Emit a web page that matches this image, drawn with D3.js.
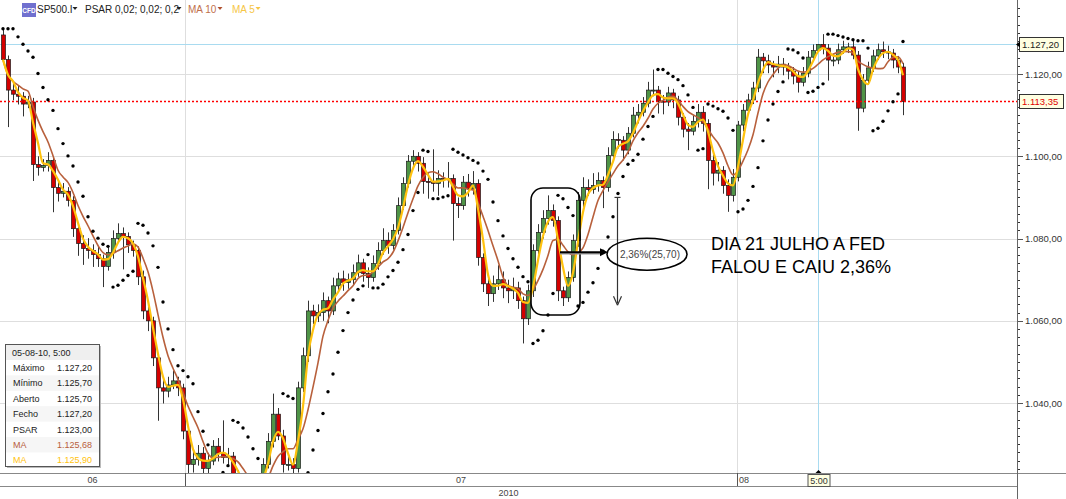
<!DOCTYPE html>
<html><head><meta charset="utf-8">
<script src="https://cdn.jsdelivr.net/npm/d3@7"></script>
<style>body{margin:0;background:#fff;}svg{display:block;font-family:"Liberation Sans",Arial,sans-serif;}</style>
</head><body><svg id="c" width="1066" height="499"></svg>
<script>
// ---------- DATA ----------
const firstOpen = 1129.5;
const closes = [
1123.5,1116.1,1115.1,1114.6,1112.7,1113.2,1098.0,1097.3,1097.8,1099.0,
1092.4,1091.0,1091.5,1089.3,1082.4,1078.8,1077.6,1077.1,1076.1,1075.1,
1073.2,1076.6,1080.0,1081.2,1080.5,1078.5,1077.1,1070.7,1062.4,1060.0,
1051.0,1043.7,1042.9,1044.4,1045.4,1043.7,1033.2,1025.1,1026.3,1027.8,
1024.1,1025.9,1029.5,1027.8,1026.8,1027.1,1022.7,1020.2,1018.5,1017.3,
1018.5,1021.0,1025.1,1030.7,1037.3,1032.0,1025.1,1025.1,1024.1,1043.7,
1051.5,1062.4,1061.2,1062.0,1064.9,1062.4,1068.5,1070.2,1069.3,1070.0,
1071.7,1074.1,1071.5,1070.5,1073.9,1077.1,1079.5,1078.3,1082.0,1088.0,
1093.4,1098.8,1100.0,1098.3,1093.9,1093.7,1093.4,1094.6,1094.4,1094.6,
1088.5,1088.0,1093.7,1092.2,1093.4,1075.4,1069.0,1066.6,1069.0,1070.0,
1068.0,1067.3,1068.0,1064.9,1060.5,1067.3,1077.1,1081.5,1084.9,1086.8,
1084.4,1067.3,1065.6,1070.5,1079.5,1089.3,1092.4,1091.9,1092.9,1094.1,
1092.4,1100.2,1104.1,1103.9,1101.5,1105.6,1110.0,1110.7,1112.9,1116.1,
1116.1,1113.4,1113.2,1115.4,1113.7,1109.5,1106.6,1106.1,1108.5,1110.7,
1108.0,1099.0,1095.9,1096.6,1092.9,1090.5,1094.9,1107.6,1111.2,1113.7,
1116.6,1124.1,1123.2,1122.2,1121.7,1122.4,1121.7,1120.7,1119.5,1118.0,
1120.2,1124.1,1125.7,1127.2,1126.3,1123.4,1123.4,1125.9,1126.6,1126.6,
1124.6,1111.7,1118.5,1121.5,1124.4,1125.9,1125.4,1125.1,1123.4,1121.7,1113.35];
const wickUp = [
1.5,1,1.5,2,1,1.5,1,2,1.5,2,
1,1.5,2,1,1,1.5,2,2.5,1.5,2,
1,1.5,2,2.5,1.5,1,1,1,1.5,1,
1,1,2,2,2.5,1,1,1.5,2,2,
1.5,2,1.5,2,8,2,1,1,1,1,
1,1,1.5,2,5,1.5,1.5,2,1.5,1.5,
2,2.5,1.5,2,2,1,2,1.5,2,1.5,
2,2,1,1.5,2,2,3,2,1.5,2,
1.5,1.5,1.5,1,1.5,2,8,2,1.5,4,
1,1.5,1.5,2,3,1,1,1.5,2,3.5,
2,2,2.5,1.5,1,1.5,1.5,2,2,3.7,
1.5,1,1,1.5,1.5,2,2.5,2,3,2,
1,2,2,1.5,1,1.5,2,2,1.5,2,
5,1,1.5,1.5,1,1,1,1.5,1.5,2,
1.5,1,1.5,2,1,1.5,2,1,1.5,1.5,
1.5,2,1,1.5,1,2,1.5,1,1,1,
1.5,1.5,1.5,0,2.5,1,1.5,1.5,1.5,1,
1.5,1,1.5,1.5,1.5,1.5,2,1.5,1,1,1];
const wickDn = [
1,9,1.5,2,3,1,4,2,1,1.5,
6,2,1,1.5,2,3,4,2,3,2,
5,1,1.5,1,8,2,1.5,2,2,2.5,
2,8,3,1.5,1,2,2,3,2,1.5,
2,1.5,1,2,1.5,2,2,1.5,1.5,1.5,
1,1.5,1.5,1,1.5,1,2,1.5,2,1,
1,1.5,2,1.5,2,3,1,1.5,2,1.5,
1.5,1,2,2.5,1,1.5,1,2,1,1,
1,1,1.5,2,3,4,2,3,2,2,
9,3,1,2,1.5,2,2,3,2,1.5,
2.5,3,2,2,6,1.5,1.5,1,1.5,1.5,
1.5,2.5,2,1,1,1.5,2,1.5,1,1.5,
5,1,1,2,2.5,1,1,2,1,1,
1.5,3,3,1,2,2,2,4.6,1,1.5,
2,7,3,2,2,4,1.5,1,1.5,1,
1,1,3,2,2.5,1.5,2,2,2,2.5,
1,1,1,0,1.5,5,1.5,1,1,1.5,
1,5.5,1,1,1,1,1.5,1.5,2,1.5,3.35];

const yDomain = [1023, 1138];
const yMajorTicks = [1040, 1060, 1080, 1100, 1120];
const yMinorStep = 2;
const monthLabels = ["06", "07", "08"];
const monthBreaks = [36.4, 146.8];     // candle positions of Jul 1 and Aug 1
const yearLabel = "2010";
const lastPrice = 1113.35;
const crossIdx = 163;
const crossPrice = 1127.20;
const crossTime = "5:00";
const infoTitle = "05-08-10, 5:00";
const infoLabels = ["Máximo", "Mínimo", "Aberto", "Fecho", "PSAR", "MA", "MA"];
const infoValues = [1127.20, 1125.70, 1125.70, 1127.20, 1123.00, 1125.68, 1125.90];
const legendItems = ["SP500.I", "PSAR 0,02; 0,02; 0,2", "MA 10", "MA 5"];
const psarParams = [0.02, 0.02, 0.2];
const maPeriods = [10, 5];
const barsPerCandle = 1.6;   // source chart bars represented by each drawn candle
const noteLines = ["DIA 21 JULHO A FED", "FALOU E CAIU 2,36%"];
const moveLabel = "2,36%(25,70)";
const boxRange = {i0: 105.6, i1: 115.4, p0: 1092.3, p1: 1061.4};
const moveArrow = {i: 122.8, from: 1090.0, to: 1064.3};
const pointer = {i0: 111.4, i1: 120.6, p: 1076.7};
const bubble = {i: 128.8, p: 1076.2};

// ---------- DERIVED ----------
const N = closes.length;
const opens = closes.map((c, i) => i === 0 ? firstOpen : closes[i - 1]);
const highs = closes.map((c, i) => Math.max(opens[i], c) + wickUp[i]);
const lows = closes.map((c, i) => Math.min(opens[i], c) - wickDn[i]);
function sma(arr, n) {            // n may be fractional (window in drawn candles)
  return arr.map((d, i) => {
    let s = 0, w = 0, rem = n;
    for (let k = i; k >= 0 && rem > 0; k--) { const ww = Math.min(1, rem); s += arr[k] * ww; w += ww; rem -= ww; }
    return s / w;
  });
}
function psar(h, l, start, step, max, r) {
  const eff = a => 1 - Math.pow(1 - a, r);
  let up = false, af = start, ep = l[0], sar = h[0]; const out = [sar];
  for (let i = 1; i < h.length; i++) {
    sar = sar + eff(af) * (ep - sar);
    if (up) {
      sar = Math.min(sar, l[i - 1], i > 1 ? l[i - 2] : l[i - 1]);
      if (l[i] < sar) { up = false; sar = ep; ep = l[i]; af = start; }
      else if (h[i] > ep) { ep = h[i]; af = Math.min(af + step * r, max); }
    } else {
      sar = Math.max(sar, h[i - 1], i > 1 ? h[i - 2] : h[i - 1]);
      if (h[i] > sar) { up = true; sar = ep; ep = h[i]; af = start; }
      else if (l[i] < ep) { ep = l[i]; af = Math.min(af + step * r, max); }
    }
    out.push(sar);
  }
  return out;
}
const ma10 = sma(closes, maPeriods[0] / barsPerCandle);
const ma5 = sma(closes, maPeriods[1] / barsPerCandle);
const sarV = psar(highs, lows, psarParams[0], psarParams[1], psarParams[2], barsPerCandle);

// ---------- LAYOUT ----------
const W = 1066, H = 499, plotR = 1017, plotB = 473, rowB = 486;
const x = d3.scaleLinear().domain([0, N - 1]).range([3, 903]);
const y = d3.scaleLinear().domain(yDomain).range([plotB, 0]);
const loc = d3.formatLocale({decimal: ",", thousands: ".", grouping: [3], currency: ["", ""]});
const fmt = loc.format(",.2f");
const svg = d3.select("#c");
const cMA10 = "#b8603c", cMA5 = "#ffc20e", cUp = "#4f9447", cDn = "#d40000", cCyan = "#a9dbf0";

svg.append("defs").append("clipPath").attr("id", "clip")
  .append("rect").attr("x", 0).attr("y", 0).attr("width", plotR).attr("height", plotB);

// grid
const g = svg.append("g");
g.selectAll(".hg").data(yMajorTicks).join("line")
  .attr("x1", 0).attr("x2", plotR).attr("y1", d => Math.round(y(d)) + 0.5).attr("y2", d => Math.round(y(d)) + 0.5)
  .attr("stroke", "#dedede");
g.selectAll(".vg").data(monthBreaks).join("line")
  .attr("x1", d => Math.round(x(d)) + 0.5).attr("x2", d => Math.round(x(d)) + 0.5).attr("y1", 0).attr("y2", plotB)
  .attr("stroke", "#dedede");
// crosshair
const cx = Math.round(x(crossIdx)) + 0.5, cy = Math.round(y(crossPrice)) + 0.5;
g.append("line").attr("x1", cx).attr("x2", cx).attr("y1", 0).attr("y2", plotB).attr("stroke", cCyan);
g.append("line").attr("x1", 0).attr("x2", plotR).attr("y1", cy).attr("y2", cy).attr("stroke", cCyan);

// candles
const pg = svg.append("g").attr("clip-path", "url(#clip)");
const idx = d3.range(N);
pg.selectAll(".wk").data(idx).join("line")
  .attr("x1", i => Math.round(x(i)) + 0.5).attr("x2", i => Math.round(x(i)) + 0.5)
  .attr("y1", i => y(highs[i])).attr("y2", i => y(lows[i]))
  .attr("stroke", "#333").attr("stroke-width", 1);
pg.selectAll(".bd").data(idx).join("rect")
  .attr("x", i => Math.round(x(i)) - 1.5).attr("width", 4)
  .attr("y", i => y(Math.max(opens[i], closes[i])))
  .attr("height", i => Math.max(1, Math.abs(y(opens[i]) - y(closes[i]))))
  .attr("fill", i => closes[i] >= opens[i] ? cUp : cDn)
  .attr("stroke", "#1a1a1a").attr("stroke-width", 0.7);

// last price line
const ly = Math.round(y(lastPrice)) + 0.5;
pg.append("line").attr("x1", 0).attr("x2", plotR).attr("y1", ly).attr("y2", ly)
  .attr("stroke", "#ff0000").attr("stroke-width", 1.4).attr("stroke-dasharray", "2,2");

// MAs
const line = arr => d3.line().x((d, i) => x(i)).y(d => y(d)).curve(d3.curveMonotoneX)(arr);
pg.append("path").attr("d", line(ma10)).attr("fill", "none").attr("stroke", cMA10).attr("stroke-width", 1.6);
pg.append("path").attr("d", line(ma5)).attr("fill", "none").attr("stroke", cMA5).attr("stroke-width", 2.2);
// PSAR
pg.selectAll(".sar").data(idx).join("circle")
  .attr("cx", i => x(i)).attr("cy", i => y(sarV[i])).attr("r", 1.7).attr("fill", "#000");

// ---------- ANNOTATIONS ----------
const an = svg.append("g");
an.append("rect").attr("x", x(boxRange.i0)).attr("y", y(boxRange.p0))
  .attr("width", x(boxRange.i1) - x(boxRange.i0)).attr("height", y(boxRange.p1) - y(boxRange.p0))
  .attr("rx", 12).attr("fill", "none").attr("stroke", "#000").attr("stroke-width", 1.6);
const py = y(pointer.p);
an.append("line").attr("x1", x(pointer.i0)).attr("x2", x(pointer.i1) - 4).attr("y1", py + 1.5).attr("y2", py + 1.5)
  .attr("stroke", "#999").attr("stroke-width", 1.5);
an.append("line").attr("x1", x(pointer.i0)).attr("x2", x(pointer.i1) - 4).attr("y1", py).attr("y2", py)
  .attr("stroke", "#000").attr("stroke-width", 2);
an.append("path").attr("d", `M${x(pointer.i1) + 2},${py} l-8,-4 l0,8 z`).attr("fill", "#000");
const ax = Math.round(x(moveArrow.i)) + 0.5;
an.append("line").attr("x1", ax).attr("x2", ax).attr("y1", y(moveArrow.from)).attr("y2", y(moveArrow.to))
  .attr("stroke", "#333").attr("stroke-width", 1.2);
an.append("line").attr("x1", ax - 3).attr("x2", ax + 3).attr("y1", y(moveArrow.from)).attr("y2", y(moveArrow.from))
  .attr("stroke", "#333").attr("stroke-width", 1.2);
an.append("path").attr("d", `M${ax},${y(moveArrow.to) + 2} l-4,-9 M${ax},${y(moveArrow.to) + 2} l4,-9`)
  .attr("stroke", "#333").attr("stroke-width", 1.2).attr("fill", "none");
an.append("ellipse").attr("cx", x(bubble.i)).attr("cy", y(bubble.p)).attr("rx", 40).attr("ry", 16)
  .attr("fill", "none").attr("stroke", "#000").attr("stroke-width", 1.6);
an.append("text").attr("x", x(bubble.i) + 3).attr("y", y(bubble.p) + 3.5).attr("text-anchor", "middle")
  .attr("font-size", 10).attr("fill", "#444").text(moveLabel);
an.selectAll(".nt").data(noteLines).join("text")
  .attr("x", 711).attr("y", (d, i) => 250 + i * 23).attr("font-size", 18).attr("fill", "#000").text(d => d);

// ---------- RIGHT AXIS ----------
const ax2 = svg.append("g");
ax2.append("line").attr("x1", plotR + 0.5).attr("x2", plotR + 0.5).attr("y1", 0).attr("y2", H).attr("stroke", "#666");
const minor = d3.range(Math.ceil(yDomain[0] / yMinorStep) * yMinorStep, yDomain[1], yMinorStep);
ax2.selectAll(".mt").data(minor).join("line")
  .attr("x1", plotR + 1).attr("x2", plotR + 3).attr("y1", d => Math.round(y(d)) + 0.5).attr("y2", d => Math.round(y(d)) + 0.5)
  .attr("stroke", "#333");
ax2.selectAll(".Mt").data(yMajorTicks).join("line")
  .attr("x1", plotR + 1).attr("x2", plotR + 6).attr("y1", d => Math.round(y(d)) + 0.5).attr("y2", d => Math.round(y(d)) + 0.5)
  .attr("stroke", "#555");
ax2.selectAll(".tl").data(yMajorTicks).join("text")
  .attr("x", plotR + 8).attr("y", d => y(d) + 3.5).attr("font-size", 9.5).attr("fill", "#333").text(d => fmt(d));
function priceTag(p, color) {
  const ty = Math.round(y(p));
  ax2.append("rect").attr("x", plotR + 2.5).attr("y", ty - 6.5).attr("width", 44).attr("height", 14)
    .attr("fill", "#ffffe1").attr("stroke", "#333");
  ax2.append("text").attr("x", plotR + 5).attr("y", ty + 4).attr("font-size", 9.5).attr("fill", color).text(fmt(p));
}
priceTag(crossPrice, "#222");
ax2.append("path").attr("d", `M${plotR - 1},${cy} l4,-3 l0,6 z`).attr("fill", "#000");
priceTag(lastPrice, "#e00000");

// ---------- BOTTOM AXIS ----------
const bx = svg.append("g");
bx.append("rect").attr("x", 0).attr("y", plotB).attr("width", W).attr("height", H - plotB).attr("fill", "#fff");
bx.append("line").attr("x1", 0).attr("x2", W).attr("y1", plotB + 0.5).attr("y2", plotB + 0.5).attr("stroke", "#888");
bx.append("line").attr("x1", 0).attr("x2", plotR).attr("y1", rowB + 0.5).attr("y2", rowB + 0.5).attr("stroke", "#888");
bx.append("line").attr("x1", plotR + 0.5).attr("x2", plotR + 0.5).attr("y1", plotB).attr("y2", H).attr("stroke", "#666");
bx.selectAll(".ms").data(monthBreaks).join("line")
  .attr("x1", d => Math.round(x(d)) + 0.5).attr("x2", d => Math.round(x(d)) + 0.5).attr("y1", plotB).attr("y2", rowB)
  .attr("stroke", "#555");
const mEdges = [0, ...monthBreaks.map(d => x(d))];
bx.selectAll(".ml").data(monthLabels).join("text")
  .attr("x", (d, i) => i < monthLabels.length - 1 ? (mEdges[i] + mEdges[i + 1]) / 2 : mEdges[i] + 7)
  .attr("y", plotB + 10).attr("text-anchor", "middle").attr("font-size", 9).attr("fill", "#444").text(d => d);
bx.append("text").attr("x", plotR / 2).attr("y", rowB + 10).attr("text-anchor", "middle")
  .attr("font-size", 9).attr("fill", "#444").text(yearLabel);
bx.append("rect").attr("x", cx - 10.5).attr("y", plotB + 1.5).attr("width", 22).attr("height", 12)
  .attr("fill", "#ffffe1").attr("stroke", "#555");
bx.append("text").attr("x", cx + 0.5).attr("y", plotB + 10.5).attr("text-anchor", "middle")
  .attr("font-size", 9).attr("fill", "#333").text(crossTime);
bx.append("path").attr("d", `M${cx},${plotB - 3} l-3,3 l6,0 z`).attr("fill", "#000");

// ---------- LEGEND ----------
const lg = svg.append("g");
lg.append("rect").attr("x", 22).attr("y", 3).attr("width", 14).attr("height", 14).attr("fill", "#7070cf");
lg.append("text").attr("x", 29).attr("y", 13).attr("text-anchor", "middle").attr("font-size", 6.5)
  .attr("font-weight", "bold").attr("fill", "#fff").text("CFD");
const legX = [37, 85, 188, 232], triX = [75, 179, 220, 258];
const legC = ["#222", "#222", "#c0704c", "#f6c646"], triC = ["#222", "#222", "#b0502e", "#f6c646"];
legendItems.forEach((t, i) => {
  lg.append("text").attr("x", legX[i]).attr("y", 12.5).attr("font-size", 10).attr("fill", legC[i]).text(t);
  lg.append("path").attr("d", `M${triX[i] - 2.5},7 l5,0 l-2.5,3 z`).attr("fill", triC[i]);
});

// ---------- INFO BOX ----------
const ib = svg.append("g");
ib.append("rect").attr("x", 7).attr("y", 346).attr("width", 94).attr("height", 122).attr("fill", "#bbb");
ib.append("rect").attr("x", 5.5).attr("y", 344.5).attr("width", 94).attr("height", 122).attr("fill", "#fff").attr("stroke", "#555");
ib.append("rect").attr("x", 6).attr("y", 345).attr("width", 93).attr("height", 15).attr("fill", "#efefef");
ib.append("text").attr("x", 12).attr("y", 356).attr("font-size", 9).attr("fill", "#222").text(infoTitle);
const infoC = ["#222", "#222", "#222", "#222", "#222", cMA10, cMA5];
infoLabels.forEach((t, i) => {
  const ry = 360 + i * 15.4;
  if (i % 2 === 1) ib.append("rect").attr("x", 6).attr("y", ry).attr("width", 93).attr("height", 15.4).attr("fill", "#f6f6f6");
  ib.append("text").attr("x", 13).attr("y", ry + 11).attr("font-size", 9).attr("fill", infoC[i]).text(t);
  ib.append("text").attr("x", 92).attr("y", ry + 11).attr("text-anchor", "end").attr("font-size", 9).attr("fill", infoC[i]).text(fmt(infoValues[i]));
});
</script></body></html>
